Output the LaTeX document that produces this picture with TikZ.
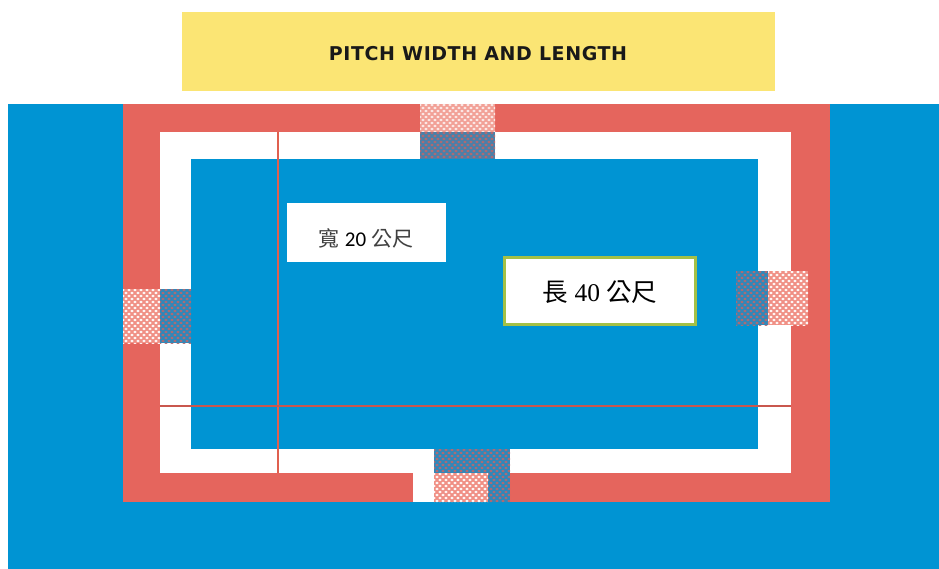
\documentclass[tikz,border=0pt]{standalone}
\usepackage{fontspec}
\setmainfont{Liberation Serif}
\newfontfamily\cjk{Noto Sans CJK TC}
\newfontfamily\latinsans{Carlito}
\newfontfamily\titlefont{DejaVu Sans}[LetterSpace=3]
\definecolor{poolblue}{HTML}{0094D3}
\definecolor{zonered}{HTML}{E5655D}
\definecolor{titleyellow}{HTML}{FBE574}
\definecolor{boxgreen}{HTML}{A4C046}
\definecolor{linered}{HTML}{C9574E}
\definecolor{thinred}{HTML}{E0604F}
\definecolor{lightbase}{HTML}{F08F84}
\definecolor{darkbase}{HTML}{4A80A9}
\definecolor{darkdot}{HTML}{B8686E}
\definecolor{darkbaseb}{HTML}{2F88BA}
\tikzset{
  band/.style={fill=#1,draw=none},
  labelbox/.style={fill=white,inner sep=0pt,anchor=north west},
  pitchline/.style={draw=linered,line width=2pt},
  thinline/.style={draw=thinred,line width=1.1pt}
}
% x0 y0 x1 y1 base dot
\newcommand{\hatchbox}[6]{%
  \begin{scope}
    \clip (#1,#2) rectangle (#3,#4);
    \fill[#5] (#1,#2) rectangle (#3,#4);
    \foreach \i in {0,...,15}{
      \foreach \j in {0,...,20}{
        \pgfmathsetmacro{\dx}{#1+\i*6+mod(\j,2)*3}
        \pgfmathsetmacro{\dy}{#2+1+\j*3}
        \fill[#6] (\dx,\dy) circle[x radius=1.7,y radius=1.3];
      }
    }
  \end{scope}}
\begin{document}
\begin{tikzpicture}[x=1pt,y=-1pt]
\useasboundingbox (0,0) rectangle (939,569);
\fill[white] (0,0) rectangle (939,569);
\fill[band=titleyellow] (182,12) rectangle (775,91);
\node[font=\titlefont\bfseries\fontsize{19}{22}\selectfont,text=black!90,inner sep=0pt] (title) at (478,54) {PITCH WIDTH AND LENGTH};
\fill[band=poolblue] (8,104) rectangle (939,569);
\fill[band=zonered] (123,104) rectangle (830,502);
\fill[band=white] (160,132) rectangle (791,473);
\fill[band=white] (413,473) rectangle (434,502);
\fill[band=poolblue] (191,159) rectangle (758,449);
% goal zones
\hatchbox{420}{104}{495}{132}{lightbase!85!white}{white!85!lightbase}
\hatchbox{420}{132}{495}{159}{darkbase}{darkdot}
\hatchbox{434}{449}{510}{502}{darkbaseb}{darkdot}
\hatchbox{434}{473}{488}{502}{lightbase}{white}
\hatchbox{123}{289}{160}{343}{lightbase}{white}
\hatchbox{160}{289}{191}{343}{darkbaseb}{darkdot}
\hatchbox{736}{271}{768}{325}{darkbaseb}{darkdot}
\hatchbox{768}{271}{808}{325}{lightbase}{white}
% measuring lines
\coordinate (wtop) at (278,132);
\coordinate (wbot) at (278,473);
\coordinate (lleft) at (160,405.5);
\coordinate (lright) at (791,405.5);
\draw[thinline] (wtop) -- (wbot);
\draw[pitchline] (lleft) -- (lright);
% labels
\node[labelbox,minimum width=159pt,minimum height=59pt] (wbox) at (287,203) {};
\node[inner sep=0pt,font=\fontsize{21}{24}\selectfont] (wtext) at (366,238) {{\cjk\color{black!75}寬} {\latinsans 20} {\cjk\color{black!75}公尺}};
\node[draw=boxgreen,line width=3.2pt,fill=white,inner sep=0pt,minimum width=191pt,minimum height=67pt] (lbox) at (600,291) {};
\node[inner sep=0pt,font=\fontsize{25.5}{29}\selectfont] (ltext) at (600,292) {{\cjk 長} 40 {\cjk 公尺}};
\end{tikzpicture}
\end{document}
